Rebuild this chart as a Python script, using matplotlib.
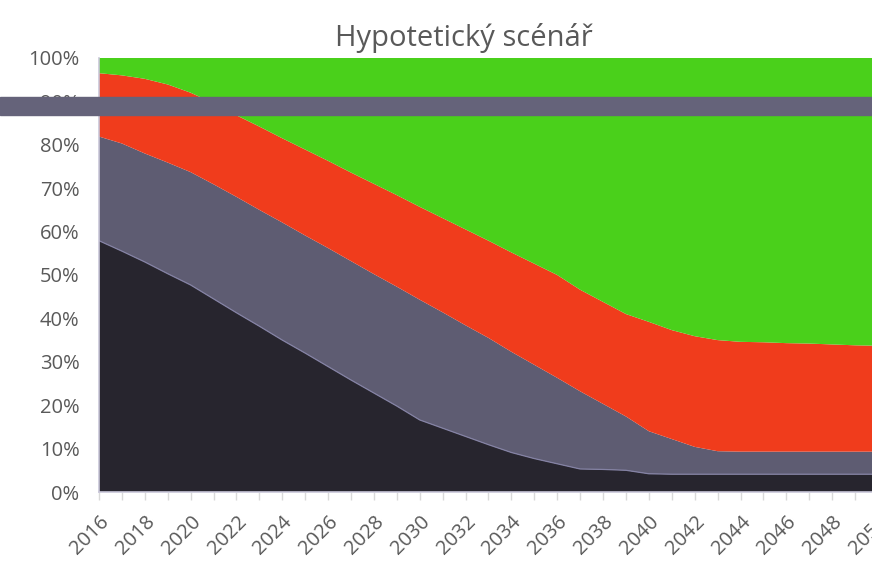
import matplotlib.pyplot as plt
from matplotlib.patches import Rectangle

years = list(range(2016, 2051))

# podily jednotlivych vrstev v % (odspodu nahoru)
tmava = [57.9, 55.5, 53.0, 50.3, 47.7, 44.5, 41.3, 38.2, 35.0, 32.0,
         28.9, 25.8, 22.8, 19.8, 16.6, 14.7, 12.8, 10.9, 9.1, 7.7,
         6.5, 5.3, 5.2, 5.0, 4.2, 4.1, 4.1, 4.1, 4.1, 4.1,
         4.1, 4.1, 4.1, 4.1, 4.1]
seda = [24.0, 24.8, 25.0, 25.6, 26.0, 26.4, 26.7, 26.8, 27.1, 27.1,
        27.3, 27.4, 27.4, 27.5, 27.7, 26.7, 25.6, 24.6, 23.2, 21.6,
        19.8, 17.9, 15.1, 12.4, 9.8, 8.1, 6.3, 5.3, 5.2, 5.2,
        5.2, 5.2, 5.2, 5.2, 5.2]
cervena = [14.6, 15.7, 17.2, 18.0, 18.3, 18.7, 18.8, 19.2, 19.4, 19.8,
           20.1, 20.4, 20.8, 21.1, 21.4, 21.7, 22.1, 22.4, 22.9, 23.3,
           23.7, 23.4, 23.5, 23.6, 25.2, 25.1, 25.5, 25.6, 25.3, 25.2,
           25.0, 24.9, 24.7, 24.5, 24.4]
zelena = [3.5, 4.0, 4.8, 6.1, 8.0, 10.4, 13.2, 15.8, 18.5, 21.1,
          23.7, 26.4, 29.0, 31.6, 34.3, 36.9, 39.5, 42.1, 44.8, 47.4,
          50.0, 53.4, 56.2, 59.0, 60.8, 62.7, 64.1, 65.0, 65.4, 65.5,
          65.7, 65.8, 66.0, 66.2, 66.3]

barvy = ['#27252e', '#5e5c72', '#f03c1c', '#4ad01b']
text_barva = '#595959'

fig = plt.figure(figsize=(8.72, 5.63), dpi=100)
ax = fig.add_axes([99 / 872, 1 - 492 / 563, 779 / 872, 434 / 563])

ax.stackplot(years, tmava, seda, cervena, zelena, colors=barvy, linewidth=0)
# tenka svetla linka mezi tmavou a sedou vrstvou
ax.plot(years, tmava, color='#8482a4', linewidth=0.9)

ax.set_xlim(2016, 2050)
ax.set_ylim(0, 100)

ax.set_yticks(range(0, 101, 10))
ax.set_yticklabels([f'{v}%' for v in range(0, 101, 10)])
ax.set_xticks(years)
ax.set_xticklabels([str(y) if y % 2 == 0 else '' for y in years],
                   rotation=45, ha='right', rotation_mode='anchor')

for s in ['top', 'right']:
    ax.spines[s].set_visible(False)
for s in ['left', 'bottom']:
    ax.spines[s].set_color('#c9c7d9')
    ax.spines[s].set_linewidth(1.2)

ax.tick_params(axis='y', length=0, pad=14, labelsize=14.5, labelcolor=text_barva,
               labelfontfamily='Open Sans')
ax.tick_params(axis='x', length=6, width=1, color='#d9d9d9', pad=8,
               labelsize=14.5, labelcolor=text_barva, labelfontfamily='Open Sans')

fig.text(464 / 872, 1 - 38 / 563, 'Hypotetický scénář', ha='center', va='center',
         fontsize=21, color=text_barva, family='Open Sans')

# sedy pruh pres celou sirku obrazku
fig.patches.append(Rectangle((0, 1 - 115 / 563), 1, 18 / 563,
                             transform=fig.transFigure, color='#65637a', zorder=5))

fig.savefig('out.png', dpi=100)
